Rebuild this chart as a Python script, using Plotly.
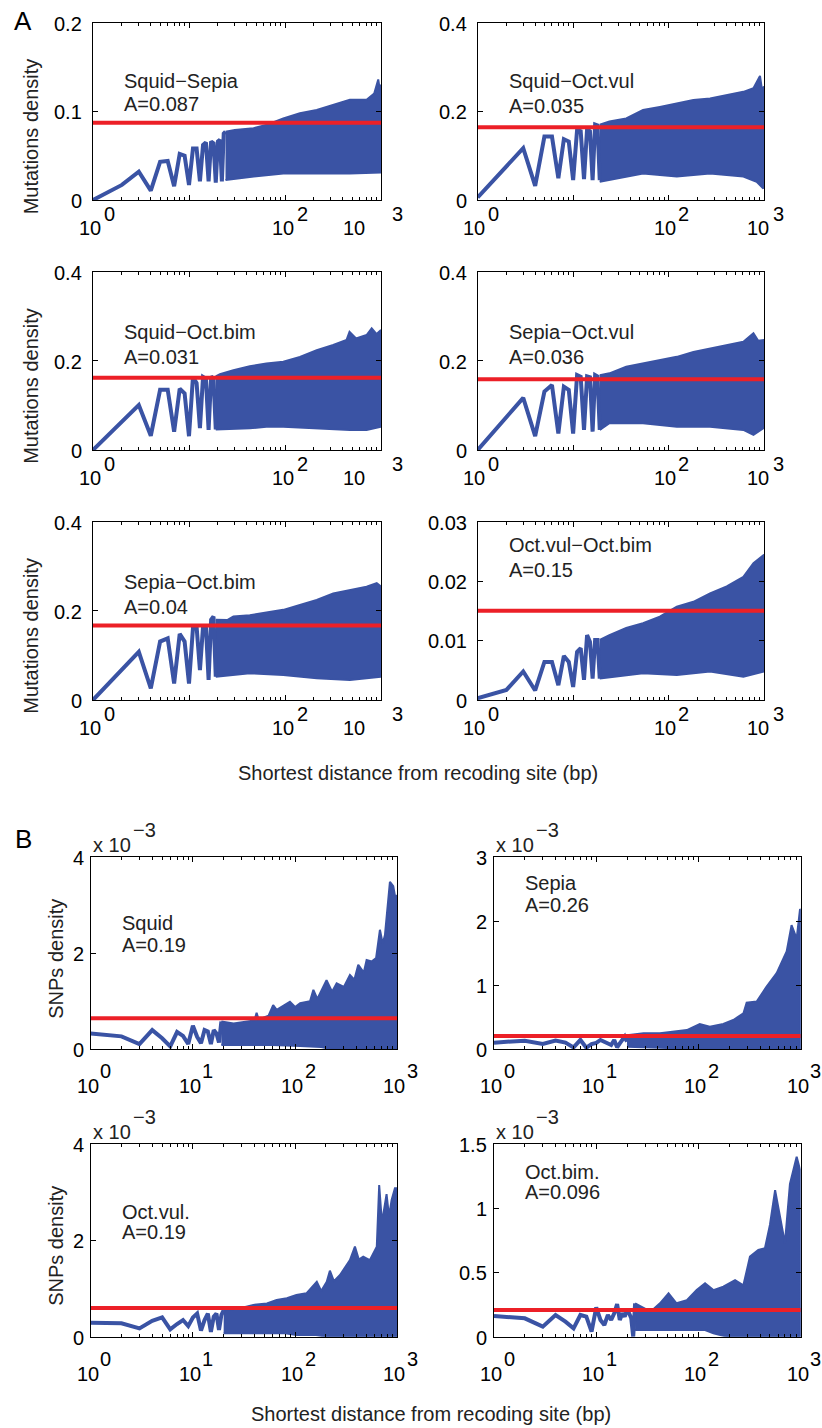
import plotly.graph_objects as go

W, H = 822, 1428
FONT = "Liberation Sans, Arial, Helvetica, sans-serif"
BLUE = "#3A53A4"
RED = "#EC2027"

# ---------------- data ----------------
# Panel A : mutation density vs shortest distance (bp); x = 1, 2, 3 ... for the "near" lists
squid_sepia_near = [0, 0.017, 0.032, 0.0105, 0.043, 0.044, 0.0155, 0.052, 0.050, 0.017, 0.058, 0.058,
                    0.021, 0.062, 0.065, 0.021, 0.066, 0.064, 0.0195, 0.066, 0.068, 0.021, 0.075, 0.077]
squid_sepia_hi_x = [24, 30, 47, 65, 96, 143, 214, 318, 474, 708, 850, 936, 970, 1000]
squid_sepia_hi_y = [0.077, 0.079, 0.081, 0.085, 0.092, 0.098, 0.1015, 0.107, 0.113, 0.113, 0.12, 0.136, 0.125, 0.13]
squid_sepia_lo_x = [24, 43, 96, 214, 474, 1000]
squid_sepia_lo_y = [0.0226, 0.026, 0.030, 0.030, 0.030, 0.031]
squid_sepia_mean = 0.087

squid_octvul_near = [0.006, 0.075, 0.117, 0.032, 0.143, 0.143, 0.049, 0.137, 0.132, 0.045, 0.158, 0.155,
                     0.047, 0.160, 0.155, 0.045, 0.170, 0.168, 0.045]
squid_octvul_hi_x = [19, 24, 36, 54, 81, 122, 182, 272, 407, 608, 775, 908, 950, 1000]
squid_octvul_hi_y = [0.170, 0.177, 0.184, 0.203, 0.210, 0.218, 0.2256, 0.229, 0.237, 0.244, 0.252, 0.28, 0.25, 0.256]
squid_octvul_lo_x = [19, 30, 54, 122, 272, 608, 838, 985, 1000]
squid_octvul_lo_y = [0.041, 0.049, 0.060, 0.053, 0.060, 0.053, 0.041, 0.026, 0.045]
squid_octvul_mean = 0.164

squid_octbim_near = [0, 0.063, 0.101, 0.032, 0.135, 0.135, 0.041, 0.1375, 0.127, 0.031, 0.164, 0.150,
                     0.049, 0.164, 0.160, 0.045, 0.165, 0.160, 0.046]
squid_octbim_hi_x = [19, 21, 29, 43, 64, 96, 143, 214, 318, 438, 470, 550, 708, 800, 900, 1000]
squid_octbim_hi_y = [0.165, 0.170, 0.179, 0.188, 0.194, 0.198, 0.209, 0.224, 0.2355, 0.247, 0.265, 0.25, 0.258, 0.273, 0.26, 0.269]
squid_octbim_lo_x = [19, 43, 64, 96, 214, 474, 708, 1000]
squid_octbim_lo_y = [0.046, 0.0486, 0.052, 0.052, 0.0486, 0.045, 0.045, 0.052]
squid_octbim_mean = 0.162

sepia_octvul_near = [0, 0.074, 0.117, 0.031, 0.131, 0.146, 0.037, 0.142, 0.135, 0.037, 0.168, 0.164,
                     0.045, 0.165, 0.163, 0.041, 0.168, 0.165, 0.045]
sepia_octvul_hi_x = [19, 24, 36, 54, 81, 122, 182, 272, 407, 608, 775, 870, 1000]
sepia_octvul_hi_y = [0.168, 0.172, 0.187, 0.194, 0.202, 0.209, 0.220, 0.228, 0.2355, 0.243, 0.262, 0.245, 0.247]
sepia_octvul_lo_x = [19, 24, 54, 122, 272, 608, 775, 1000]
sepia_octvul_lo_y = [0.045, 0.060, 0.060, 0.052, 0.052, 0.045, 0.034, 0.050]
sepia_octvul_mean = 0.1585

sepia_octbim_near = [0, 0.068, 0.108, 0.026, 0.131, 0.138, 0.037, 0.148, 0.131, 0.037, 0.161, 0.164,
                     0.067, 0.164, 0.164, 0.045, 0.180, 0.187, 0.052]
sepia_octbim_hi_x = [19, 25, 29, 43, 64, 96, 143, 214, 318, 474, 708, 902, 1000]
sepia_octbim_hi_y = [0.180, 0.179, 0.187, 0.190, 0.196, 0.202, 0.213, 0.224, 0.239, 0.247, 0.254, 0.262, 0.254]
sepia_octbim_lo_x = [19, 43, 96, 214, 474, 1000]
sepia_octbim_lo_y = [0.052, 0.060, 0.056, 0.049, 0.045, 0.052]
sepia_octbim_mean = 0.1667

octvul_octbim_near = [0.0003, 0.0017, 0.0048, 0.0016, 0.0064, 0.0064, 0.0025, 0.0074, 0.0064, 0.0022, 0.0081,
                      0.0087, 0.0034, 0.0109, 0.0098, 0.0036, 0.0101, 0.0101, 0.0036]
octvul_octbim_hi_x = [19, 24, 36, 54, 81, 122, 182, 272, 407, 608, 775, 1000]
octvul_octbim_hi_y = [0.0101, 0.0109, 0.0121, 0.0129, 0.0140, 0.0157, 0.0165, 0.0179, 0.0191, 0.0207, 0.0230, 0.0244]
octvul_octbim_lo_x = [19, 24, 54, 122, 272, 608, 1000]
octvul_octbim_lo_y = [0.0036, 0.0039, 0.0045, 0.0042, 0.0048, 0.0039, 0.0048]
octvul_octbim_mean = 0.0150

# Panel B : SNPs density (units of 1e-3)
squid_near = [0.33, 0.27, 0.11, 0.40, 0.23, 0.06, 0.36, 0.28, 0.11, 0.49, 0.26, 0.125, 0.40, 0.37, 0.11,
              0.40, 0.33, 0.14, 0.58]
squid_hi_x = [19, 25, 34, 40, 42, 44, 55, 61, 66, 89, 100, 112, 140, 151, 165, 203, 230, 255, 300, 344,
              380, 415, 470, 501, 561, 620, 676, 720, 757, 847, 913, 948, 1000]
squid_hi_y = [0.58, 0.54, 0.58, 0.60, 0.76, 0.62, 0.70, 0.92, 0.82, 0.99, 0.88, 0.96, 1.0, 1.24, 1.05, 1.44,
              1.2, 1.375, 1.3, 1.55, 1.45, 1.76, 1.6, 1.86, 1.83, 1.9, 2.49, 2.2, 2.38, 3.49, 3.4, 3.2, 3.2]
squid_lo_x = [19, 60, 112, 180, 230, 1000]
squid_lo_y = [0.09, 0.09, 0.07, 0.05, 0.0, 0.0]
squid_mean = 0.646

sepia_near = [0.104, 0.135, 0.083, 0.135, 0.104, 0.03, 0.146, 0.026, 0.083, 0.10, 0.146, 0.12, 0.104, 0.068,
              0.146, 0.03, 0.094, 0.146, 0.20, 0.12]
sepia_hi_x = [20, 29, 42, 61, 77, 103, 129, 175, 219, 275, 296, 371, 464, 582, 729, 814, 913, 985, 1000]
sepia_hi_y = [0.22, 0.25, 0.25, 0.276, 0.30, 0.396, 0.354, 0.396, 0.458, 0.56, 0.73, 0.745, 0.98, 1.19, 1.53,
              1.94, 1.73, 2.19, 2.18]
sepia_lo_x = [20, 50, 70, 1000]
sepia_lo_y = [0.04, 0.02, 0.0, 0.0]
sepia_mean = 0.208

octvul_near = [0.29, 0.277, 0.173, 0.33, 0.40, 0.152, 0.263, 0.346, 0.22, 0.40, 0.48, 0.125, 0.346, 0.48,
               0.10, 0.415, 0.48, 0.14, 0.45, 0.55]
octvul_hi_x = [20, 29, 39, 53, 66, 83, 103, 129, 163, 180, 204, 219, 240, 275, 344, 385, 420, 464, 538, 630,
               665, 700, 728, 785, 830, 880, 948, 1000]
octvul_hi_y = [0.55, 0.59, 0.66, 0.69, 0.76, 0.80, 0.865, 0.90, 1.14, 0.95, 1.14, 1.37, 1.15, 1.28, 1.59, 1.87,
               1.6, 1.66, 1.59, 1.87, 3.15, 2.5, 2.53, 2.96, 2.5, 2.84, 3.08, 3.08]
octvul_lo_x = [20, 80, 103, 160, 200, 1000]
octvul_lo_y = [0.07, 0.07, 0.035, 0.035, 0.0, 0.0]
octvul_mean = 0.595

octbim_near = [0.161, 0.143, 0.078, 0.169, 0.117, 0.065, 0.169, 0.156, 0.039, 0.228, 0.13, 0.091, 0.169, 0.13,
               0.182, 0.254, 0.13, 0.182, 0.156, 0.208, 0.182, 0.143, 0.0, 0.26]
octbim_hi_x = [24, 34, 42, 51, 61, 77, 96, 116, 140, 175, 228, 275, 319, 385, 447, 500, 562, 630, 701, 785,
               913, 985, 1000]
octbim_hi_y = [0.26, 0.195, 0.26, 0.337, 0.26, 0.285, 0.363, 0.415, 0.363, 0.39, 0.44, 0.40, 0.623, 0.675,
               0.688, 0.87, 1.14, 0.934, 0.727, 1.19, 1.40, 1.30, 0.55]
octbim_lo_x = [24, 116, 140, 190, 1000]
octbim_lo_y = [0.052, 0.052, 0.026, 0.0, 0.0]
octbim_mean = 0.2076

# labels / ticks
A_ylabel = "Mutations density"
B_ylabel = "SNPs density"
x_title = "Shortest distance from recoding site (bp)"
A_xtick_exps = [0, 2, 3]
B_xtick_exps = [0, 1, 2, 3]
minor_vals = [m * 10 ** d for d in range(3) for m in range(2, 10)]

panels = [
    ("Squid−Sepia", "A=0.087", squid_sepia_near, squid_sepia_hi_x, squid_sepia_hi_y, squid_sepia_lo_x, squid_sepia_lo_y,
     squid_sepia_mean, [0, 0.1, 0.2], ["0", "0.1", "0.2"], (93, 381), (22.7, 200), "A", 0),
    ("Squid−Oct.vul", "A=0.035", squid_octvul_near, squid_octvul_hi_x, squid_octvul_hi_y, squid_octvul_lo_x, squid_octvul_lo_y,
     squid_octvul_mean, [0, 0.2, 0.4], ["0", "0.2", "0.4"], (477.7, 764), (22.7, 200), "A", 1),
    ("Squid−Oct.bim", "A=0.031", squid_octbim_near, squid_octbim_hi_x, squid_octbim_hi_y, squid_octbim_lo_x, squid_octbim_lo_y,
     squid_octbim_mean, [0, 0.2, 0.4], ["0", "0.2", "0.4"], (93, 381), (271.7, 450), "A", 0),
    ("Sepia−Oct.vul", "A=0.036", sepia_octvul_near, sepia_octvul_hi_x, sepia_octvul_hi_y, sepia_octvul_lo_x, sepia_octvul_lo_y,
     sepia_octvul_mean, [0, 0.2, 0.4], ["0", "0.2", "0.4"], (477.7, 764), (271.7, 450), "A", 1),
    ("Sepia−Oct.bim", "A=0.04", sepia_octbim_near, sepia_octbim_hi_x, sepia_octbim_hi_y, sepia_octbim_lo_x, sepia_octbim_lo_y,
     sepia_octbim_mean, [0, 0.2, 0.4], ["0", "0.2", "0.4"], (93, 381), (521.5, 700), "A", 0),
    ("Oct.vul−Oct.bim", "A=0.15", octvul_octbim_near, octvul_octbim_hi_x, octvul_octbim_hi_y, octvul_octbim_lo_x, octvul_octbim_lo_y,
     octvul_octbim_mean, [0, 0.01, 0.02, 0.03], ["0", "0.01", "0.02", "0.03"], (477.7, 764), (521.5, 700), "A", 1),
    ("Squid", "A=0.19", squid_near, squid_hi_x, squid_hi_y, squid_lo_x, squid_lo_y,
     squid_mean, [0, 2, 4], ["0", "2", "4"], (90.7, 397.3), (857.3, 1049.3), "B", 0),
    ("Sepia", "A=0.26", sepia_near, sepia_hi_x, sepia_hi_y, sepia_lo_x, sepia_lo_y,
     sepia_mean, [0, 1, 2, 3], ["0", "1", "2", "3"], (494, 800.7), (857.3, 1049.3), "B", 1),
    ("Oct.vul.", "A=0.19", octvul_near, octvul_hi_x, octvul_hi_y, octvul_lo_x, octvul_lo_y,
     octvul_mean, [0, 2, 4], ["0", "2", "4"], (90.7, 397.3), (1144, 1336.7), "B", 0),
    ("Oct.bim.", "A=0.096", octbim_near, octbim_hi_x, octbim_hi_y, octbim_lo_x, octbim_lo_y,
     octbim_mean, [0, 0.5, 1, 1.5], ["0", "0.5", "1", "1.5"], (494, 800.7), (1144, 1336.7), "B", 1),
]

label_dy = [(58, 81), (58, 83), (60, 85), (60, 85), (60, 85), (23.5, 48.5),
            (66, 88), (26, 48), (68, 88), (28, 48)]


def px(x):
    return x / W


def py(y):
    return 1 - y / H


fig = go.Figure()
annotations = []
layout = {}

for i, (name, atext, near, hx, hy, lx, ly, mean, yt, ytt, (L, R), (T, B), grp, col) in enumerate(panels):
    k = "" if i == 0 else str(i + 1)
    xa, ya = "x" + k, "y" + k
    ymax = yt[-1]
    fig.add_trace(go.Scatter(x=hx + lx[::-1], y=hy + ly[::-1], fill="toself", fillcolor=BLUE,
                             mode="lines", line=dict(color=BLUE, width=2),
                             xaxis=xa, yaxis=ya, showlegend=False, hoverinfo="skip"))
    fig.add_trace(go.Scatter(x=list(range(1, len(near) + 1)), y=near, mode="lines",
                             line=dict(color=BLUE, width=4), xaxis=xa, yaxis=ya, showlegend=False))
    fig.add_trace(go.Scatter(x=[1, 1000], y=[mean, mean], mode="lines",
                             line=dict(color=RED, width=4), xaxis=xa, yaxis=ya, showlegend=False))

    layout["xaxis" + k] = dict(domain=[px(L), px(R)], anchor=ya, type="log", range=[0, 3],
                               showgrid=False, zeroline=False, showline=True, linecolor="black",
                               linewidth=1, mirror="ticks", ticks="inside", ticklen=5, tickwidth=1,
                               tickcolor="black", tickvals=[1, 10, 100, 1000], showticklabels=False,
                               minor=dict(ticks="inside", ticklen=3, tickwidth=1, tickcolor="black",
                                          tickvals=minor_vals, showgrid=False))
    layout["yaxis" + k] = dict(domain=[py(B), py(T)], anchor=xa, range=[0, ymax],
                               showgrid=False, zeroline=False, showline=True, linecolor="black",
                               linewidth=1, mirror="ticks", ticks="inside", ticklen=5, tickwidth=1,
                               tickcolor="black", tickvals=yt, showticklabels=False)

    yoff = 9 if grp == "A" else 5
    for v, t in zip(yt, ytt):
        ypx = T + (1 - v / ymax) * (B - T) + 1
        annotations.append(dict(x=px(L - yoff), y=py(ypx), xref="paper", yref="paper", text=t,
                                showarrow=False, xanchor="right", yanchor="middle",
                                font=dict(size=20, family=FONT, color="black")))
    exps = A_xtick_exps if grp == "A" else B_xtick_exps
    for e in exps:
        tx = L + (R - L) * e / 3
        if grp == "A":
            if col == 0:
                off = {0: (-3, 16), 2: (-2, 17), 3: (-27, 16)}[e]
            else:
                off = {0: (-4, 16), 2: (-3.5, 14.5), 3: (-6, 14)}[e]
            by, ey = B + 28, B + 14
        else:
            off = (-3, 15)
            by, ey = B + 37, B + 22
        annotations.append(dict(x=px(tx + off[0]), y=py(by), xref="paper", yref="paper", text="10",
                                showarrow=False, xanchor="center", yanchor="middle",
                                font=dict(size=20, family=FONT, color="black")))
        annotations.append(dict(x=px(tx + off[1]), y=py(ey), xref="paper", yref="paper", text=str(e),
                                showarrow=False, xanchor="center", yanchor="middle",
                                font=dict(size=20, family=FONT, color="black")))
    d1, d2 = label_dy[i]
    for txt, dy in ((name, d1), (atext, d2)):
        annotations.append(dict(x=px(L + 29), y=py(T + dy), xref="paper", yref="paper", text=txt,
                                showarrow=False, xanchor="left", yanchor="middle",
                                font=dict(size=20, family=FONT, color="#222222")))
    if col == 0:
        if grp == "A":
            annotations.append(dict(x=px(31), y=py((T + B) / 2 + 25), xref="paper", yref="paper",
                                    text=A_ylabel, textangle=-90, showarrow=False,
                                    xanchor="center", yanchor="middle",
                                    font=dict(size=20, family=FONT, color="#222222")))
        else:
            annotations.append(dict(x=px(56.5), y=py((T + B) / 2 + 6), xref="paper", yref="paper",
                                    text=B_ylabel, textangle=-90, showarrow=False,
                                    xanchor="center", yanchor="middle",
                                    font=dict(size=20, family=FONT, color="#222222")))
    if grp == "B":
        annotations.append(dict(x=px(L), y=py(T - 12.5), xref="paper", yref="paper", text="x 10",
                                showarrow=False, xanchor="left", yanchor="middle",
                                font=dict(size=20, family=FONT, color="#222222")))
        annotations.append(dict(x=px(L + 40), y=py(T - 27), xref="paper", yref="paper", text="−3",
                                showarrow=False, xanchor="left", yanchor="middle",
                                font=dict(size=20, family=FONT, color="#222222")))

annotations.append(dict(x=px(418), y=py(773), xref="paper", yref="paper", text=x_title, showarrow=False,
                        xanchor="center", yanchor="middle", font=dict(size=20, family=FONT, color="#222222")))
annotations.append(dict(x=px(431), y=py(1414), xref="paper", yref="paper", text=x_title, showarrow=False,
                        xanchor="center", yanchor="middle", font=dict(size=20, family=FONT, color="#222222")))
annotations.append(dict(x=px(23), y=py(21), xref="paper", yref="paper", text="A", showarrow=False,
                        xanchor="center", yanchor="middle", font=dict(size=26, family=FONT, color="black")))
annotations.append(dict(x=px(23), y=py(839), xref="paper", yref="paper", text="B", showarrow=False,
                        xanchor="center", yanchor="middle", font=dict(size=26, family=FONT, color="black")))

fig.update_layout(width=W, height=H, margin=dict(l=0, r=0, t=0, b=0), paper_bgcolor="white",
                  plot_bgcolor="white", showlegend=False, annotations=annotations, **layout)

fig.write_html("out.html")
